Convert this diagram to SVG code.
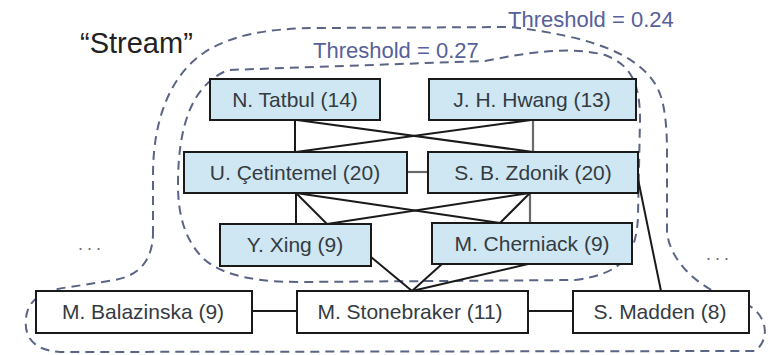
<svg xmlns="http://www.w3.org/2000/svg" width="776" height="355" viewBox="0 0 776 355">
  <style>
    .core rect { fill: #cfe7f3; stroke: #1a1a1a; stroke-width: 2; }
    .outer rect { fill: #ffffff; stroke: #1a1a1a; stroke-width: 2; }
    .node text { font-family: "Liberation Sans", Arial, sans-serif; font-size: 21px; fill: #343b42; text-anchor: middle; }
    .edge { stroke: #1a1a1a; stroke-width: 2; fill: none; }
    .edge.soft { stroke: #6a6a6a; stroke-width: 2.2; }
    .hull { fill: none; stroke: #5a6485; stroke-width: 2; stroke-dasharray: 9 6; }
    .thr { font-family: "Liberation Sans", Arial, sans-serif; font-size: 22px; fill: #56609a; }
    .title { font-family: "Liberation Sans", Arial, sans-serif; font-size: 29px; fill: #222222; }
    .more { font-family: "Liberation Sans", Arial, sans-serif; font-size: 18px; fill: #6f6f6f; letter-spacing: 4px; }
  </style>

  <rect width="776" height="355" fill="#ffffff"/>

  <!-- community outlines for the two thresholds -->
  <g id="hulls">
    <path class="hull" d="M153,235 L153,175 C153,120 170,75 205,52 C230,36 265,28 320,28 L510,27 C590,36 650,55 662,100 C667,120 667,140 667,160 L667,232 C670,262 700,292 748,305 C768,316 770,340 755,351 L60,352 C32,350 24,336 26,318 C28,298 45,290 70,287 L115,280 C140,275 152,260 153,235 Z"/>
    <path class="hull" d="M178,185 C178,125 192,85 228,70 L485,61 C530,52 570,46 605,55 C632,65 640,85 640,120 L638,215 C637,255 622,274 575,280 L300,282 C245,282 215,272 200,255 C185,238 178,215 178,185 Z"/>
  </g>

  <!-- collaboration links -->
  <g id="connectors">
    <path class="edge" d="M295,120 V152"/>
    <path class="edge soft" d="M533,120 V152"/>
    <path class="edge" d="M297,120 L533,152"/>
    <path class="edge" d="M531,120 L296,152"/>
    <path class="edge soft" d="M407,172 H428"/>
    <path class="edge" d="M296,193 V224"/>
    <path class="edge" d="M296,193 L327,224"/>
    <path class="edge" d="M296,193 L500,223"/>
    <path class="edge soft" d="M530,193 V223"/>
    <path class="edge" d="M530,193 L500,223"/>
    <path class="edge" d="M530,193 L327,224"/>
    <path class="edge" d="M371,257 L412,291"/>
    <path class="edge" d="M442,264 L412,291"/>
    <path class="edge" d="M528,264 L412,291"/>
    <path class="edge" d="M638,179 L661,291"/>
    <path class="edge" d="M252,311 H297"/>
    <path class="edge" d="M528,311 H573"/>
  </g>

  <g id="tatbul" class="node core">
    <rect x="210" y="79" width="170" height="41"/>
    <text x="295" y="107">N. Tatbul (14)</text>
  </g>
  <g id="hwang" class="node core">
    <rect x="429" y="79" width="207" height="41"/>
    <text x="532" y="107">J. H. Hwang (13)</text>
  </g>
  <g id="cetintemel" class="node core">
    <rect x="184" y="152" width="223" height="41"/>
    <text x="295" y="180">U. Çetintemel (20)</text>
  </g>
  <g id="zdonik" class="node core">
    <rect x="428" y="152" width="210" height="41"/>
    <text x="533" y="180">S. B. Zdonik (20)</text>
  </g>
  <g id="xing" class="node core">
    <rect x="220" y="224" width="151" height="42"/>
    <text x="295" y="252">Y. Xing (9)</text>
  </g>
  <g id="cherniack" class="node core">
    <rect x="432" y="223" width="200" height="41"/>
    <text x="532" y="251">M. Cherniack (9)</text>
  </g>
  <g id="balazinska" class="node outer">
    <rect x="36" y="291" width="216" height="42"/>
    <text x="143" y="319">M. Balazinska (9)</text>
  </g>
  <g id="stonebraker" class="node outer">
    <rect x="297" y="291" width="231" height="42"/>
    <text x="410" y="319">M. Stonebraker (11)</text>
  </g>
  <g id="madden" class="node outer">
    <rect x="573" y="291" width="176" height="42"/>
    <text x="660" y="319">S. Madden (8)</text>
  </g>

  <g id="labels">
    <text class="title" x="80" y="53">“Stream”</text>
    <text class="thr" x="313" y="58">Threshold = 0.27</text>
    <text class="thr" x="508" y="27">Threshold = 0.24</text>
    <text class="more" x="78" y="250">...</text>
    <text class="more" x="706" y="260">...</text>
  </g>
</svg>
